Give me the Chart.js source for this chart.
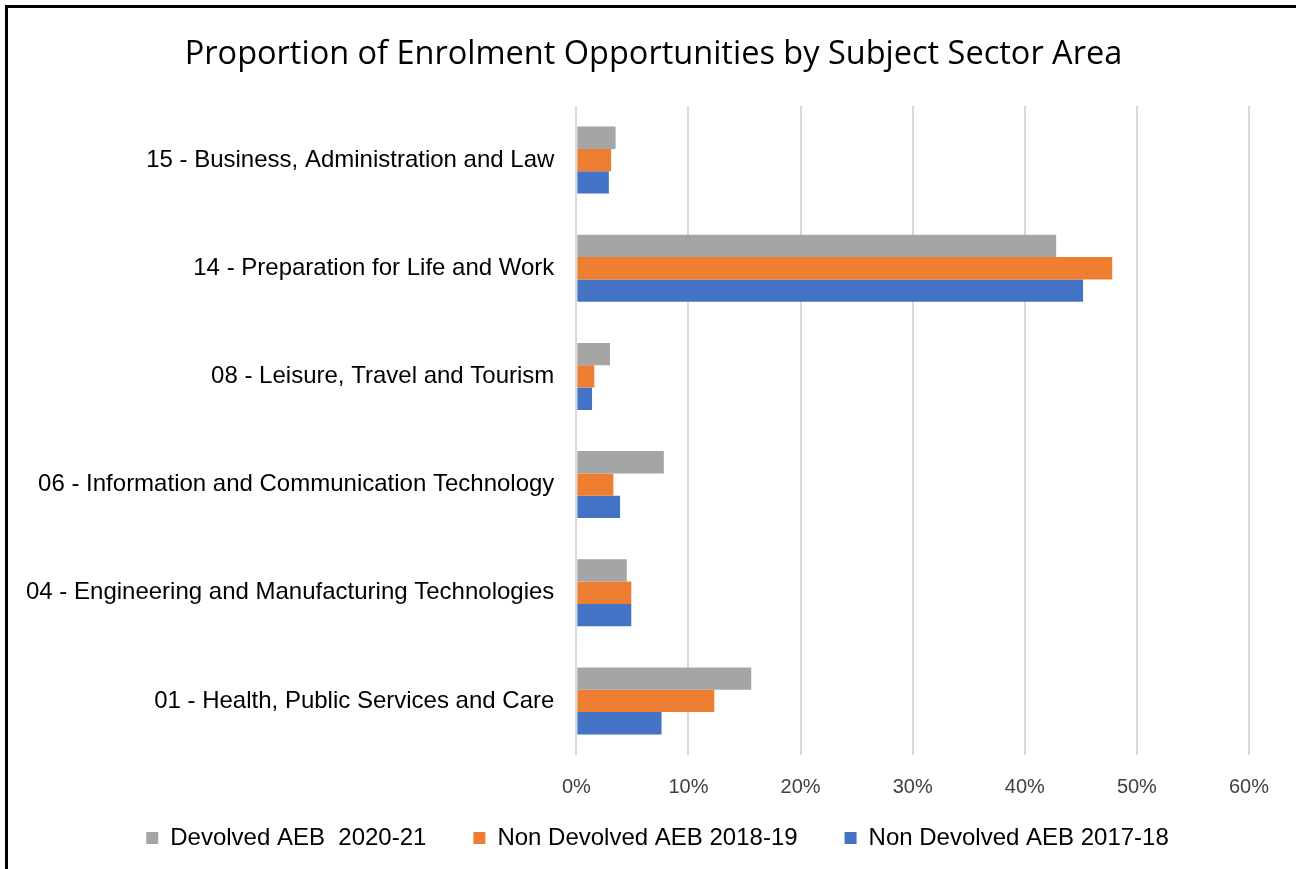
<!DOCTYPE html>
<html>
<head>
<meta charset="utf-8">
<script src="https://cdn.jsdelivr.net/npm/chart.js@4"></script>
<style>
  html, body { margin: 0; padding: 0; background: #fff; overflow: hidden; }
  #wrap { position: relative; width: 1296px; height: 869px; }
  #frame { position: absolute; left: 5px; top: 5px; right: 0; bottom: 0;
           border-left: 3px solid #000; border-top: 3px solid #000; pointer-events: none; }
  canvas { display: block; }
</style>
</head>
<body>
<div id="wrap">
  <canvas id="chart" width="1296" height="869"></canvas>
  <div id="frame"></div>
</div>
<script>
// Subject sector areas, top to bottom
const categories = [
  '15 - Business, Administration and Law',
  '14 - Preparation for Life and Work',
  '08 - Leisure, Travel and Tourism',
  '06 - Information and Communication Technology',
  '04 - Engineering and Manufacturing Technologies',
  '01 - Health, Public Services and Care'
];

// Share of enrolment opportunities (%)
const devolved2021    = [3.5, 42.8, 3.0, 7.8, 4.5, 15.6];
const nonDevolved1819 = [3.1, 47.8, 1.6, 3.3, 4.9, 12.3];
const nonDevolved1718 = [2.9, 45.2, 1.4, 3.9, 4.9, 7.6];

const seriesNames = ['Devolved AEB  2020-21', 'Non Devolved AEB 2018-19', 'Non Devolved AEB 2017-18'];
const xTicks = [0, 10, 20, 30, 40, 50, 60];

const sans = "'Liberation Sans', Arial, sans-serif";

// Centre the title and legend on the whole frame; the legend reserves a
// short band in the layout and is then widened upward so its row sits
// just under the axis labels.
const boxNudge = {
  id: 'boxNudge',
  afterLayout(chart) {
    const t = chart.titleBlock, l = chart.legend;
    if (t) { t.left += 27; t.right += 27; }
    if (l) {
      l.left += 31; l.right += 31;
      l.top -= 40;
      l.bottom = chart.height;
      l.height = l.bottom - l.top;
    }
  }
};

new Chart(document.getElementById('chart'), {
  type: 'bar',
  data: {
    labels: categories,
    datasets: [
      { label: seriesNames[0], data: devolved2021,    backgroundColor: '#A5A5A5' },
      { label: seriesNames[1], data: nonDevolved1819, backgroundColor: '#ED7D31' },
      { label: seriesNames[2], data: nonDevolved1718, backgroundColor: '#4472C4' }
    ]
  },
  plugins: [boxNudge],
  options: {
    indexAxis: 'y',
    responsive: false,
    animation: false,
    datasets: { bar: { categoryPercentage: 0.62, barPercentage: 1.0 } },
    layout: { padding: { left: 4, right: 47, top: 0, bottom: 0 } },
    plugins: {
      title: {
        display: true,
        text: 'Proportion of Enrolment Opportunities by Subject Sector Area',
        color: '#000',
        font: { family: "'Open Sans', sans-serif", size: 32.5, weight: 'normal' },
        padding: { top: 35, bottom: 32 }
      },
      legend: {
        position: 'bottom',
        maxHeight: 50,
        labels: {
          boxWidth: 12, boxHeight: 12, padding: 47,
          color: '#000',
          font: { family: sans, size: 24 }
        }
      },
      tooltip: { enabled: false }
    },
    scales: {
      x: {
        min: xTicks[0], max: xTicks[xTicks.length - 1],
        afterBuildTicks: (axis) => { axis.ticks = xTicks.map(v => ({ value: v })); },
        ticks: {
          callback: (v) => v + '%',
          color: '#404040',
          font: { family: sans, size: 20 },
          padding: 20
        },
        grid: { color: '#d9d9d9', lineWidth: 2, drawTicks: false },
        border: { display: false }
      },
      y: {
        ticks: { color: '#000', font: { family: sans, size: 24 }, padding: 22 },
        grid: { display: false, drawTicks: false },
        border: { display: false }
      }
    }
  }
});
</script>
</body>
</html>
